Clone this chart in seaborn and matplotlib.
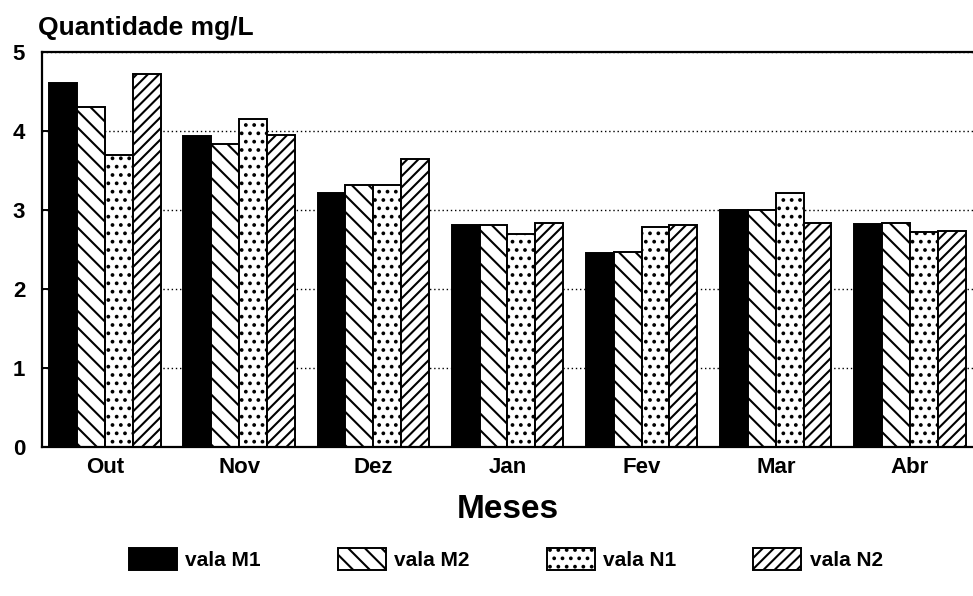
import matplotlib
matplotlib.use("Agg")
import matplotlib.pyplot as plt
import seaborn as sns
import pandas as pd
from matplotlib.patches import Patch

months = ["Out", "Nov", "Dez", "Jan", "Fev", "Mar", "Abr"]
series = ["vala M1", "vala M2", "vala N1", "vala N2"]
vala_m1 = [4.60, 3.93, 3.22, 2.81, 2.46, 3.00, 2.82]
vala_m2 = [4.30, 3.83, 3.32, 2.81, 2.47, 3.00, 2.83]
vala_n1 = [3.70, 4.15, 3.32, 2.70, 2.79, 3.22, 2.72]
vala_n2 = [4.72, 3.95, 3.65, 2.84, 2.81, 2.84, 2.73]
y_ticks = [0, 1, 2, 3, 4, 5]

rows = []
for name, vals in zip(series, [vala_m1, vala_m2, vala_n1, vala_n2]):
    for m, v in zip(months, vals):
        rows.append({"Mes": m, "Serie": name, "Valor": v})
df = pd.DataFrame(rows)

sns.set_theme(style="white")
plt.rcParams["font.family"] = ["Liberation Sans", "DejaVu Sans"]
plt.rcParams["font.weight"] = "bold"
plt.rcParams["text.color"] = "black"
plt.rcParams["axes.labelcolor"] = "black"
plt.rcParams["xtick.color"] = "black"
plt.rcParams["ytick.color"] = "black"
plt.rcParams["hatch.linewidth"] = 1.5
plt.rcParams["hatch.color"] = "black"

fig = plt.figure(figsize=(9.73, 5.96), dpi=100)
ax = fig.add_axes([0.043, 0.25, 0.957, 0.663])

palette = {s: "white" for s in series}
palette["vala M1"] = "black"
sns.barplot(data=df, x="Mes", y="Valor", hue="Serie", order=months,
            hue_order=series, palette=palette, width=0.83, ax=ax,
            edgecolor="black", linewidth=1.4, errorbar=None, saturation=1,
            legend=False)

hatches = ["", "\\\\", "..", "///"]
for cont, h in zip(ax.containers, hatches):
    for p in cont:
        p.set_hatch(h)

ax.set_xlim(-0.47, 6.47)
ax.set_ylim(0, 5)
ax.set_yticks(y_ticks)
ax.set_yticklabels([str(t) for t in y_ticks], fontsize=16, fontweight="bold")
ax.tick_params(axis="y", direction="in", length=8, width=1.4, left=True, pad=12)
ax.tick_params(axis="x", length=0, pad=7, labelsize=16)
for lbl in ax.get_xticklabels():
    lbl.set_fontweight("bold")

ax.set_axisbelow(True)
ax.yaxis.grid(True, linestyle=(0, (1, 2)), color="black", linewidth=1.0)
ax.xaxis.grid(False)
ax.spines["right"].set_visible(False)
for s in ["left", "bottom", "top"]:
    ax.spines[s].set_color("black")
    ax.spines[s].set_linewidth(1.6)

ax.set_xlabel("Meses", fontsize=24, fontweight="bold", labelpad=12)
ax.set_ylabel("")

fig.text(0.039, 0.953, "Quantidade mg/L", fontsize=19, fontweight="bold",
         ha="left", va="center")

handles = [Patch(facecolor=palette[s], edgecolor="black", hatch=h, linewidth=1.4)
           for s, h in zip(series, hatches)]
fig.legend(handles, series, loc="center", bbox_to_anchor=(0.52, 0.062),
           ncol=4, frameon=False, handlelength=2.3,
           handleheight=1.2, columnspacing=3.7, handletextpad=0.4,
           prop={"weight": "bold", "size": 15})

fig.savefig("out.png", dpi=100)
